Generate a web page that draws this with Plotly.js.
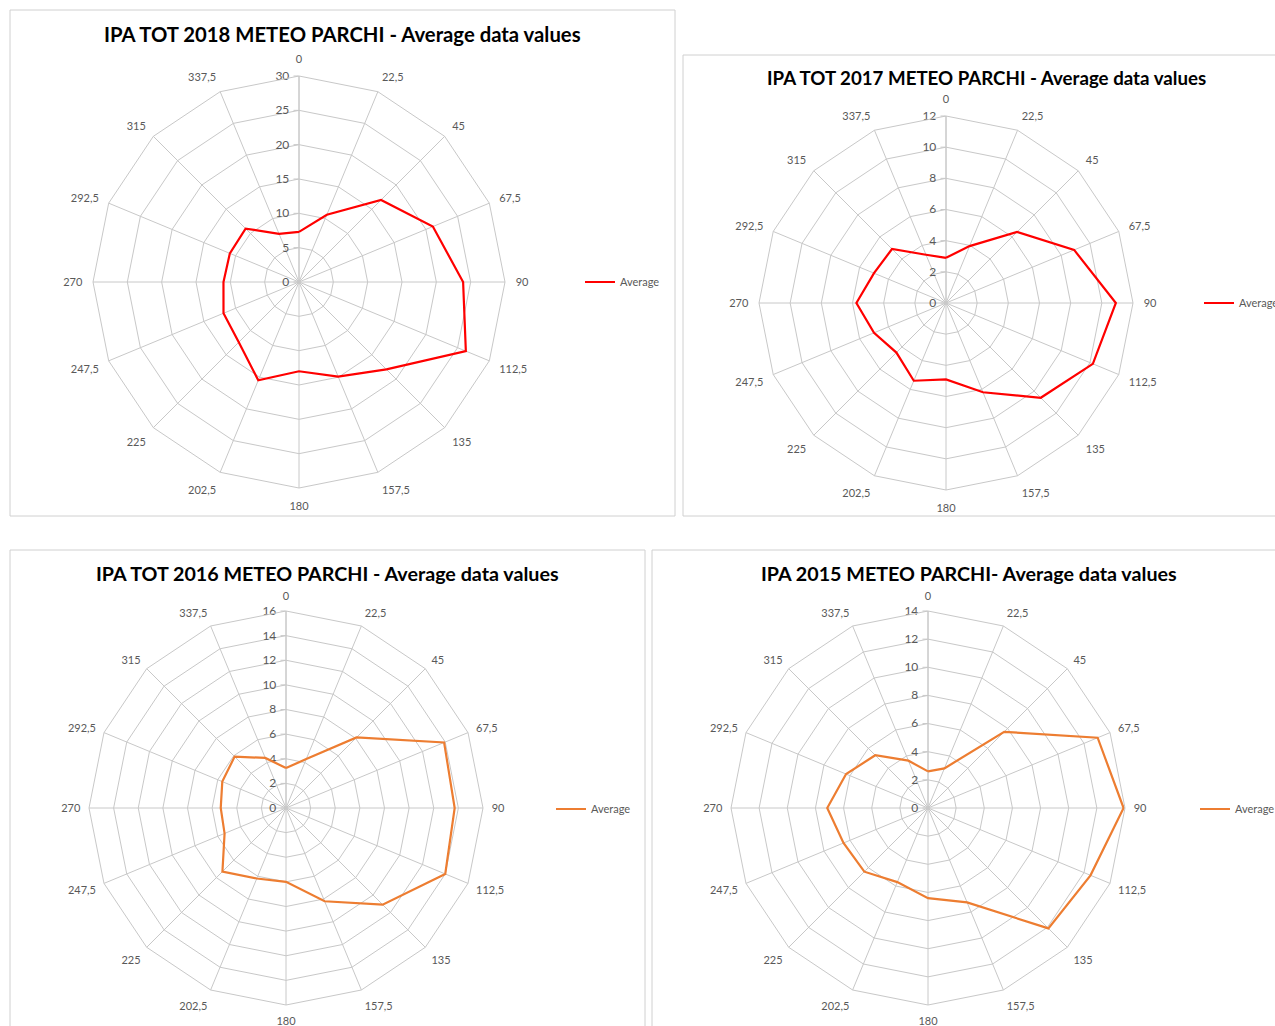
<!DOCTYPE html>
<html>
<head>
<meta charset="utf-8">
<script src="https://cdn.plot.ly/plotly-3.0.1.min.js"></script>
<style>
html,body{margin:0;padding:0;background:#fff;overflow:hidden;width:1275px;height:1026px;}
#wrap{width:1275px;height:1026px;overflow:hidden;position:relative;}
#chart{width:1275px;height:1026px;}
</style>
</head>
<body>
<div id="wrap"><div id="chart"></div></div>
<script>
// Directions (degrees) used as angular categories
const directions = ["0","22,5","45","67,5","90","112,5","135","157,5","180","202,5","225","247,5","270","292,5","315","337,5"];

// Average values per direction
const avg2018 = [7.3, 10.6, 16.9, 21.1, 23.9, 26.3, 18.0, 14.9, 13.0, 15.5, 12.4, 11.9, 11.0, 10.9, 11.0, 7.6];
const avg2017 = [2.9, 3.95, 6.45, 8.9, 10.9, 10.2, 8.6, 6.2, 4.9, 5.4, 4.5, 5.0, 5.75, 5.0, 4.9, 3.35];
const avg2016 = [3.25, 4.3, 8.1, 13.9, 13.7, 14.0, 11.1, 8.2, 6.0, 6.2, 7.3, 5.4, 5.3, 5.6, 5.9, 4.4];
const avg2015 = [2.6, 3.05, 7.66, 13.05, 13.9, 12.5, 12.1, 7.26, 6.41, 5.7, 6.4, 6.5, 7.16, 6.3, 5.3, 3.64];

const titles = [
  "IPA TOT 2018 METEO PARCHI - Average data values",
  "IPA TOT 2017 METEO PARCHI - Average data values",
  "IPA TOT 2016 METEO PARCHI - Average data values",
  "IPA 2015 METEO PARCHI- Average data values"
];
const seriesName = "Average";
const radialMax = [30, 12, 16, 14];
const radialStep = [5, 2, 2, 2];

const W = 1275, H = 1026;
const FONT = "Lato, 'Open Sans', sans-serif";
const GRID = "#c8c8c8";
const TXT = "#595959";

function dom(cx, cy, R) {
  return {x: [(cx - R) / W, (cx + R) / W], y: [1 - (cy + R) / H, 1 - (cy - R) / H]};
}
function closed(arr) { return arr.concat([arr[0]]); }

const panels = [
  {data: avg2018, color: "#ff0000", d: dom(299, 282, 206), title: [342, 34, 20.3], box: [10, 10, 675, 516], leg: [580, 282], tl: 8},
  {data: avg2017, color: "#ff0000", d: dom(946, 303, 187), title: [986, 78, 18.7], box: [683, 55, 1280, 516], leg: [1199, 303], tl: 8},
  {data: avg2016, color: "#ed7d31", d: dom(286, 808, 197), title: [327, 573, 19.7], box: [10, 550, 645, 1030], leg: [551, 809], tl: 6},
  {data: avg2015, color: "#ed7d31", d: dom(928, 808, 197), title: [969, 573, 19.7], box: [652, 550, 1280, 1030], leg: [1195, 809], tl: 6}
];

const traces = [];
const layout = {
  width: W, height: H,
  autosize: false,
  margin: {l: 0, r: 0, t: 0, b: 0, pad: 0, autoexpand: false},
  paper_bgcolor: "#ffffff",
  font: {family: FONT, color: TXT, size: 11},
  annotations: [],
  shapes: []
};

panels.forEach((p, i) => {
  const key = i === 0 ? "polar" : "polar" + (i + 1);
  const lkey = i === 0 ? "legend" : "legend" + (i + 1);
  traces.push({
    type: "scatterpolar",
    mode: "lines",
    r: closed(p.data),
    theta: closed(directions),
    name: seriesName,
    subplot: key,
    legend: lkey,
    showlegend: true,
    line: {color: p.color, width: 2.2},
    hoverinfo: "skip"
  });
  layout[key] = {
    domain: p.d,
    bgcolor: "rgba(0,0,0,0)",
    gridshape: "linear",
    angularaxis: {
      type: "category",
      categoryorder: "array",
      categoryarray: directions,
      direction: "clockwise",
      rotation: 90,
      showline: true,
      linecolor: GRID,
      linewidth: 1,
      showgrid: true,
      gridcolor: GRID,
      gridwidth: 1,
      ticks: "outside",
      ticklen: p.tl,
      tickcolor: "rgba(0,0,0,0)",
      tickfont: {family: FONT, size: 11, color: TXT}
    },
    radialaxis: {
      range: [0, radialMax[i]],
      dtick: radialStep[i],
      tick0: 0,
      angle: 90,
      side: "counterclockwise",
      tickangle: 90,
      showline: true,
      linecolor: GRID,
      showgrid: true,
      gridcolor: GRID,
      gridwidth: 1,
      ticks: "outside",
      ticklen: 5,
      tickcolor: GRID,
      tickfont: {family: FONT, size: 12, color: TXT},
      layer: "below traces"
    }
  };
  layout[lkey] = {
    x: p.leg[0] / W, y: 1 - p.leg[1] / H,
    xanchor: "left", yanchor: "middle",
    bgcolor: "rgba(0,0,0,0)",
    borderwidth: 0,
    itemwidth: 30,
    font: {family: FONT, size: 11, color: TXT}
  };
  layout.annotations.push({
    xref: "paper", yref: "paper",
    x: p.title[0] / W, y: 1 - p.title[1] / H,
    xanchor: "center", yanchor: "middle",
    showarrow: false,
    text: "<b>" + titles[i] + "</b>",
    font: {family: FONT, size: p.title[2], color: "#000000"}
  });
  layout.shapes.push({
    type: "rect", xref: "paper", yref: "paper",
    x0: p.box[0] / W, x1: p.box[2] / W,
    y0: 1 - p.box[3] / H, y1: 1 - p.box[1] / H,
    line: {color: "#d0d0d0", width: 1},
    fillcolor: "rgba(0,0,0,0)",
    layer: "below"
  });
});

Plotly.newPlot("chart", traces, layout, {displayModeBar: false, staticPlot: true});
</script>
</body>
</html>
